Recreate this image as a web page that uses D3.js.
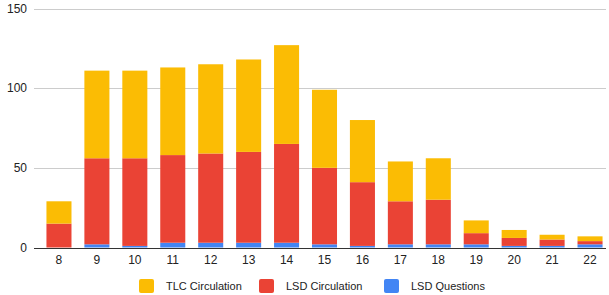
<html>
  <head>
    <meta charset="utf-8">
    <title>Stacked bars</title>
    <script src="https://cdn.jsdelivr.net/npm/d3@7"></script>
    <style>
      body { margin: 0; background: #fff; }
      text { font-family: "Liberation Sans", Arial, sans-serif; fill: #222; }
    </style>
  </head>
  <body>
    <svg></svg>
    <script>
      'use strict';

      // data
      const categories = ['8', '9', '10', '11', '12', '13', '14', '15', '16', '17', '18', '19', '20', '21', '22'];
      const lsdQuestions = [0, 2, 1, 3, 3, 3, 3, 2, 1, 2, 2, 2, 1, 1, 2];
      const lsdCirculation = [15, 54, 55, 55, 56, 57, 62, 48, 40, 27, 28, 7, 5, 4, 2];
      const tlcCirculation = [14, 55, 55, 55, 56, 58, 62, 49, 39, 25, 26, 8, 5, 3, 3];
      const yTicks = [0, 50, 100, 150];

      const seriesNames = ['LSD Questions', 'LSD Circulation', 'TLC Circulation'];
      const colors = { 'LSD Questions': '#4285F4', 'LSD Circulation': '#EA4335', 'TLC Circulation': '#FBBC04' };
      const legendOrder = ['TLC Circulation', 'LSD Circulation', 'LSD Questions'];

      const w = 609, h = 295;
      const svg = d3.select('svg').attr('width', w).attr('height', h);

      // build rows for d3.stack
      const rows = categories.map(function (c, i) {
        return {
          cat: c,
          'LSD Questions': lsdQuestions[i],
          'LSD Circulation': lsdCirculation[i],
          'TLC Circulation': tlcCirculation[i]
        };
      });
      const stacked = d3.stack().keys(seriesNames)(rows);

      const x = d3.scaleBand().domain(categories).range([40, 609])
        .paddingInner(0.34).paddingOuter(0.17);
      const y = d3.scaleLinear().domain([0, 150]).range([247.5, 8.5]);

      // gridlines
      svg.append('g').selectAll('line').data(yTicks).enter().append('line')
        .attr('x1', 34).attr('x2', 606)
        .attr('y1', d => Math.round(y(d)) + 0.5).attr('y2', d => Math.round(y(d)) + 0.5)
        .attr('stroke', '#cccccc').attr('stroke-width', 1);

      // y labels
      svg.append('g').selectAll('text').data(yTicks).enter().append('text')
        .attr('x', 27).attr('y', d => y(d) + 4)
        .attr('text-anchor', 'end').attr('font-size', 12)
        .text(d => d);

      // bars
      svg.append('g').selectAll('g').data(stacked).enter().append('g')
        .attr('fill', d => colors[d.key])
        .selectAll('rect').data(d => d).enter().append('rect')
        .attr('x', d => x(d.data.cat))
        .attr('width', x.bandwidth())
        .attr('y', d => y(d[1]))
        .attr('height', d => Math.max(0, y(d[0]) - y(d[1])));

      // baseline
      svg.append('line')
        .attr('x1', 34).attr('x2', 606)
        .attr('y1', Math.round(y(0)) + 0.5).attr('y2', Math.round(y(0)) + 0.5)
        .attr('stroke', '#333333').attr('stroke-width', 1);

      // x labels
      svg.append('g').selectAll('text').data(categories).enter().append('text')
        .attr('x', d => x(d) + x.bandwidth() / 2).attr('y', 264)
        .attr('text-anchor', 'middle').attr('font-size', 12)
        .text(d => d);

      // legend
      const legendX = [139, 259, 384];
      const legend = svg.append('g').selectAll('g').data(legendOrder).enter().append('g')
        .attr('transform', (d, i) => 'translate(' + legendX[i] + ',279)');
      legend.append('rect').attr('width', 15).attr('height', 14).attr('rx', 2)
        .attr('fill', d => colors[d]);
      legend.append('text').attr('x', 27).attr('y', 11).attr('font-size', 11)
        .text(d => d);
    </script>
  </body>
</html>
